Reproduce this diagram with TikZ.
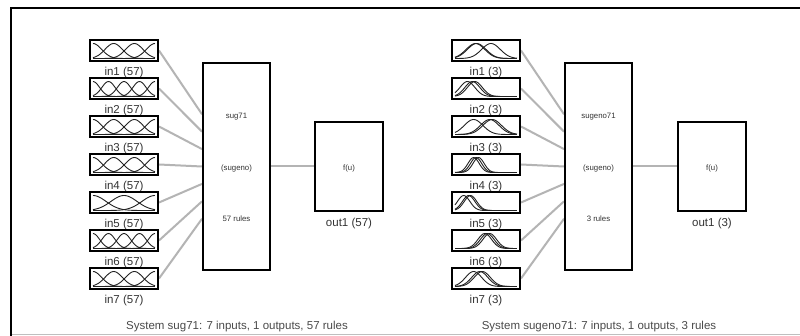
\documentclass[tikz,border=0pt]{standalone}
\usepackage{fontspec}
\setmainfont{Liberation Sans}
\usetikzlibrary{calc,backgrounds}
\definecolor{conngray}{HTML}{B4B4B4}
\definecolor{txtgray}{HTML}{333333}
\definecolor{capgray}{HTML}{4A4A4A}
\definecolor{mfgray}{HTML}{222222}
% #1 inner left x, #2 inner bottom y, #3 sigma, #4 list of centres
\newcommand\mfset[4]{\foreach \c in {#4}{\draw[mfline] plot[domain=0:1,samples=45,smooth] ({#1+62*\x},{#2-15*exp(-((\x-\c)*(\x-\c))/(2*#3*#3))});}}
\begin{document}
\begin{tikzpicture}[x=1pt,y=-1pt,
  inbox/.style={draw=black,line width=2pt,minimum width=68pt,minimum height=21pt,inner sep=0pt},
  fisbox/.style={draw=black,line width=2pt,minimum width=67pt,minimum height=207pt,inner sep=0pt},
  outbox/.style={draw=black,line width=2pt,minimum width=68pt,minimum height=89pt,inner sep=0pt},
  lbl/.style={text=txtgray,font=\fontsize{11.5}{13}\selectfont,inner sep=0pt},
  small/.style={text=txtgray,font=\fontsize{7.8}{9}\selectfont,inner sep=0pt},
  captxt/.style={text=capgray,font=\fontsize{11.5}{13}\selectfont,inner sep=0pt},
  conn/.style={draw=conngray,line width=2pt},
  mfline/.style={draw=mfgray,line width=0.9pt},
  framel/.style={draw=black,line width=2.5pt}]
\useasboundingbox (0,0) rectangle (800,336);
% frame
\draw[framel] (800,8) -- (11,8) -- (11,336);
\draw[draw=black!25,line width=1pt] (12,334.5) -- (800,334.5);

% ---------- left system ----------
\foreach \k in {1,...,7}{
  \node[inbox] (L\k) at (124,{50.5+38*(\k-1)}) {};
  \node[lbl] (L\k t) at (124,{73+38*(\k-1)}) {in\k\ (57)};
}
\mfset{93}{58.5}{0.14}{0,0.3333,0.6667,1}
\mfset{93}{96.5}{0.106}{0,0.25,0.5,0.75,1}
\mfset{93}{134.5}{0.14}{0,0.3333,0.6667,1}
\mfset{93}{172.5}{0.14}{0,0.3333,0.6667,1}
\mfset{93}{210.5}{0.21}{0,0.5,1}
\mfset{93}{248.5}{0.106}{0,0.25,0.5,0.75,1}
\mfset{93}{286.5}{0.14}{0,0.3333,0.6667,1}

\node[fisbox] (LC) at (236.5,166.5) {};
\node[small] (LCa) at (236.5,117) {sug71};
\node[small] (LCb) at (236.5,168) {(sugeno)};
\node[small] (LCc) at (236.5,219) {57 rules};

\node[outbox] (LO) at (349,166.5) {};
\node[small] (LOa) at (349,168) {f(u)};
\node[lbl] (LOt) at (349,224) {out1 (57)};

\node[captxt] (Lcap) at (237,327) {System sug71: 7 inputs, 1 outputs, 57 rules};

% ---------- right system ----------
\foreach \k in {1,...,7}{
  \node[inbox] (R\k) at (486,{50.5+38*(\k-1)}) {};
  \node[lbl] (R\k t) at (486,{73+38*(\k-1)}) {in\k\ (3)};
}
\mfset{455}{58.5}{0.15}{0.33,0.35,0.58}
\mfset{455}{96.5}{0.12}{0.2,0.28,0.32}
\mfset{455}{134.5}{0.15}{0.3,0.56,0.6}
\mfset{455}{172.5}{0.09}{0.3,0.34,0.38}
\mfset{455}{210.5}{0.1}{0.14,0.22,0.25}
\mfset{455}{248.5}{0.11}{0.48,0.52,0.56}
\mfset{455}{286.5}{0.13}{0.3,0.4,0.44}

\node[fisbox] (RC) at (598.5,166.5) {};
\node[small] (RCa) at (598.5,117) {sugeno71};
\node[small] (RCb) at (598.5,168) {(sugeno)};
\node[small] (RCc) at (598.5,219) {3 rules};

\node[outbox] (RO) at (712,166.5) {};
\node[small] (ROa) at (712,168) {f(u)};
\node[lbl] (ROt) at (712,224) {out1 (3)};

\node[captxt] (Rcap) at (599,327) {System sugeno71: 7 inputs, 1 outputs, 3 rules};

% ---------- connectors ----------
\begin{scope}[on background layer]
\fill[white] (0,0) rectangle (800,336);
\foreach \k [evaluate=\k as \f using 0.25+(\k-1)/12] in {1,...,7}{
  \draw[conn] (L\k.east) -- ($(LC.north west)!\f!(LC.south west)$);
  \draw[conn] (R\k.east) -- ($(RC.north west)!\f!(RC.south west)$);
}
\draw[conn] (LC.east) -- (LO.west);
\draw[conn] (RC.east) -- (RO.west);
\end{scope}
\end{tikzpicture}
\end{document}
